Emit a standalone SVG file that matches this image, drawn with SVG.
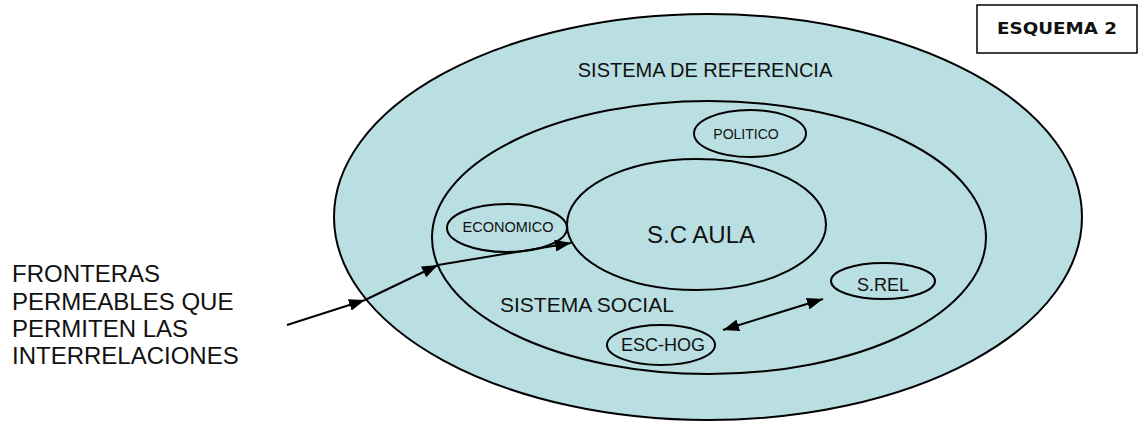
<svg xmlns="http://www.w3.org/2000/svg" width="1141" height="421" viewBox="0 0 1141 421">
<defs>
<style>
.e{fill:#b9dfe3;stroke:#000;stroke-width:2}
.t{font-family:"Liberation Sans",Arial,sans-serif;fill:#111}
.b{font-family:"DejaVu Sans",Verdana,sans-serif;font-weight:bold;fill:#111}
.c{stroke:#000;stroke-width:2;fill:none}
.m{text-anchor:middle}
</style>
<marker id="ah" viewBox="0 0 16 12" refX="16" refY="6" markerWidth="16" markerHeight="12" markerUnits="userSpaceOnUse" orient="auto-start-reverse"><path d="M0,0L16,6L0,12z" fill="#000"/></marker>
</defs>
<rect width="1141" height="421" fill="#fff"/>
<g id="sistema-referencia">
<ellipse class="e" cx="708" cy="217" rx="374" ry="203"/>
<text class="t m" x="705" y="77" font-size="20">SISTEMA DE REFERENCIA</text>
</g>
<g id="sistema-social">
<ellipse class="e" cx="709" cy="237.5" rx="277" ry="136.5"/>
<text class="t" x="500" y="312" font-size="21">SISTEMA SOCIAL</text>
</g>
<g id="sc-aula">
<ellipse class="e" cx="696.5" cy="224.5" rx="129.5" ry="65.5"/>
<text class="t m" x="701" y="243" font-size="24">S.C AULA</text>
</g>
<g id="politico">
<ellipse class="e" cx="750" cy="133.5" rx="56" ry="23.5"/>
<text class="t m" x="746" y="139" font-size="14">POLITICO</text>
</g>
<g id="economico">
<ellipse class="e" cx="507" cy="228" rx="60" ry="24"/>
<text class="t m" x="508" y="232" font-size="14.5">ECONOMICO</text>
</g>
<g id="s-rel">
<ellipse class="e" cx="883" cy="281" rx="52" ry="18"/>
<text class="t m" x="883" y="291" font-size="18">S.REL</text>
</g>
<g id="esc-hog">
<ellipse class="e" cx="661" cy="345" rx="54" ry="20"/>
<text class="t m" x="663" y="351" font-size="18">ESC-HOG</text>
</g>
<g id="fronteras">
<text class="t" x="12" font-size="24"><tspan x="12" y="282">FRONTERAS</tspan><tspan x="12" y="310">PERMEABLES QUE</tspan><tspan x="12" y="337">PERMITEN LAS</tspan><tspan x="12" y="364">INTERRELACIONES</tspan></text>
</g>
<g id="esquema">
<rect x="977" y="5" width="160" height="48" fill="#fff" stroke="#000" stroke-width="1.5"/>
<text class="b" x="997" y="34" font-size="16" textLength="120" lengthAdjust="spacingAndGlyphs">ESQUEMA 2</text>
</g>
<g id="connectors">
<line class="c" x1="287" y1="325" x2="365" y2="300" marker-end="url(#ah)"/>
<line class="c" x1="365" y1="300" x2="438" y2="265" marker-end="url(#ah)"/>
<line class="c" x1="438" y1="265" x2="571" y2="243" marker-end="url(#ah)"/>
<line class="c" x1="723" y1="330" x2="823" y2="299" marker-start="url(#ah)" marker-end="url(#ah)"/>
</g>
</svg>
